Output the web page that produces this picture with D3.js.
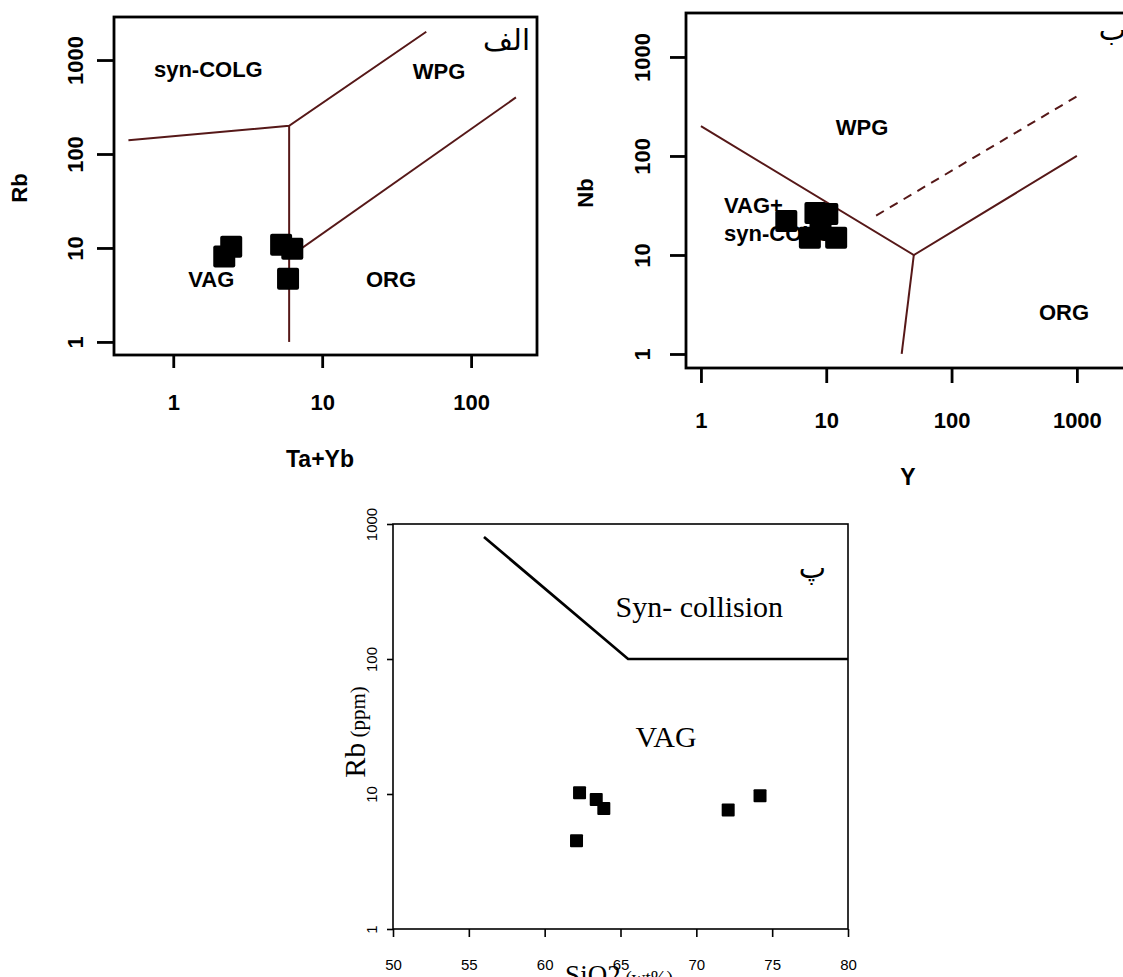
<!DOCTYPE html>
<html>
<head>
<meta charset="utf-8">
<script src="https://cdn.jsdelivr.net/npm/d3@7"></script>
<style>
  body { margin: 0; background: #fff; }
</style>
</head>
<body>
<div id="chart"></div>
<script>
var width = 1123;
var height = 977;

// panel الف : Rb against Ta+Yb
var taYb = [2.2, 2.45, 5.3, 6.3, 5.9];
var rbA = [8.1, 10.3, 10.8, 9.8, 4.7];
var ticksA = [1, 10, 100];
var ticksAy = [1, 10, 100, 1000];

// panel ب : Nb against Y
var yB = [4.8, 8.2, 10.2, 7.4, 12, 9];
var nbB = [22, 26.5, 26, 14.9, 14.9, 18.7];
var ticksB = [1, 10, 100, 1000];
var ticksBy = [1, 10, 100, 1000];

// panel پ : Rb against SiO2
var sio2 = [62.3, 63.4, 63.9, 62.1, 72.1, 74.2];
var rbC = [10.2, 9.1, 7.8, 4.5, 7.6, 9.7];
var ticksC = [50, 55, 60, 65, 70, 75, 80];
var ticksCy = [1, 10, 100, 1000];

// field boundaries (data units)
var boundsA = [
  [[0.5, 140], [6, 200], [50, 2000]],
  [[6, 200], [6, 1]],
  [[6, 8], [200, 400]]
];
var boundsB = [
  [[1, 200], [50, 10], [1000, 100]],
  [[50, 10], [40, 1]]
];
var dashedB = [[25, 25], [1000, 400]];
var boundsC = [[56, 800], [65.5, 100], [80, 100]];

// field names (anchored in data units)
var fieldsA = [
  {t: "syn-COLG", x: 1.72, y: 800},
  {t: "WPG", x: 61, y: 760},
  {t: "VAG", x: 1.8, y: 4.6},
  {t: "ORG", x: 29, y: 4.6}
];
var fieldsB = [
  {t: "WPG", x: 19.3, y: 196},
  {t: "VAG+", x: 1.53, y: 32, a: "start"},
  {t: "syn-COLG", x: 1.53, y: 16.7, a: "start"},
  {t: "ORG", x: 789, y: 2.66}
];
var fieldsC = [
  {t: "Syn- collision", x: 70.2, y: 243},
  {t: "VAG", x: 68, y: 26.5}
];

var svg = d3.select("#chart")
    .append("svg")
    .attr("width", width)
    .attr("height", height);

var lineColor = "#561818";
var sans = "'Liberation Sans', Arial, sans-serif";
var serif = "'Liberation Serif', 'Times New Roman', serif";

var line = d3.line();

function frame(g, f, w) {
  g.append("rect")
      .attr("x", f.x0).attr("y", f.y0)
      .attr("width", f.x1 - f.x0).attr("height", f.y1 - f.y0)
      .attr("fill", "none").attr("stroke", "#000").attr("stroke-width", w);
}

function axes(g, x, y, f, o) {
  var ax = g.append("g")
      .attr("transform", "translate(0," + f.y1 + ")")
      .call(d3.axisBottom(x).tickValues(o.xt).tickFormat(d3.format("d"))
        .tickSize(o.xs).tickSizeOuter(0));
  ax.select(".domain").remove();
  ax.selectAll("line").attr("stroke-width", o.tw);
  ax.selectAll("text")
      .attr("y", o.xl).attr("dy", "0.35em")
      .attr("font-family", o.font).attr("font-size", o.fs)
      .attr("font-weight", o.fw);

  var ay = g.append("g")
      .attr("transform", "translate(" + f.x0 + ",0)")
      .call(d3.axisLeft(y).tickValues(o.yt).tickFormat(d3.format("d"))
        .tickSize(o.ys).tickSizeOuter(0));
  ay.select(".domain").remove();
  ay.selectAll("line").attr("stroke-width", o.tw);
  ay.selectAll("text")
      .attr("transform", "rotate(-90)")
      .attr("x", 0).attr("y", o.yl).attr("dy", 0)
      .attr("text-anchor", "middle")
      .attr("font-family", o.font).attr("font-size", o.fs)
      .attr("font-weight", o.fw);
  g.selectAll(".tick text").attr("fill", "#000");
  g.selectAll(".tick line").attr("stroke", "#000");
}

function squares(g, xs, ys, x, y, s) {
  g.selectAll(null)
    .data(xs.map(function(d, i) { return [d, ys[i]]; }))
    .enter().append("rect")
      .attr("x", function(d) { return x(d[0]) - s / 2; })
      .attr("y", function(d) { return y(d[1]) - s / 2; })
      .attr("width", s).attr("height", s)
      .attr("rx", s > 15 ? 2 : 1)
      .attr("fill", "#000");
}

function fields(g, list, x, y, font, fs, fw) {
  g.selectAll(null)
    .data(list)
    .enter().append("text")
      .attr("x", function(d) { return x(d.x); })
      .attr("y", function(d) { return y(d.y); })
      .attr("dy", "0.35em")
      .attr("text-anchor", function(d) { return d.a || "middle"; })
      .attr("font-family", font).attr("font-size", fs)
      .attr("font-weight", fw)
      .text(function(d) { return d.t; });
}

// ---------- panel الف ----------
var fA = {x0: 114, x1: 537, y0: 17, y1: 355};
var xA = d3.scaleLog().domain([0.40, 277]).range([fA.x0, fA.x1]);
var yA = d3.scaleLog().domain([0.726, 2870]).range([fA.y1, fA.y0]);
var gA = svg.append("g");

gA.selectAll(null).data(boundsA).enter().append("path")
    .attr("d", function(d) { return line(d.map(function(p) { return [xA(p[0]), yA(p[1])]; })); })
    .attr("fill", "none").attr("stroke", lineColor).attr("stroke-width", 2);
fields(gA, fieldsA, xA, yA, sans, 22, "bold");
squares(gA, taYb, rbA, xA, yA, 22);
frame(gA, fA, 2.8);
axes(gA, xA, yA, fA, {xt: ticksA, yt: ticksAy, xs: 13, ys: 17, xl: 47, yl: -31,
  tw: 2.8, font: sans, fs: 22, fw: "bold"});
gA.append("text").attr("x", 320).attr("y", 459).attr("dy", "0.35em")
    .attr("text-anchor", "middle").attr("font-family", sans)
    .attr("font-size", 23).attr("font-weight", "bold").text("Ta+Yb");
gA.append("text").attr("transform", "translate(27,188) rotate(-90)")
    .attr("text-anchor", "middle").attr("font-family", sans)
    .attr("font-size", 22).attr("font-weight", "bold").text("Rb");
gA.append("text").attr("x", 530).attr("y", 50)
    .attr("text-anchor", "end").attr("font-family", "'DejaVu Sans', sans-serif")
    .attr("font-size", 29).text("الف");

// ---------- panel ب ----------
var fB = {x0: 686, x1: 1135, y0: 13, y1: 368};
var xB = d3.scaleLog().domain([0.76, 2910]).range([fB.x0, fB.x1]);
var yB_ = d3.scaleLog().domain([0.722, 2780]).range([fB.y1, fB.y0]);
var gB = svg.append("g");

gB.selectAll(null).data(boundsB).enter().append("path")
    .attr("d", function(d) { return line(d.map(function(p) { return [xB(p[0]), yB_(p[1])]; })); })
    .attr("fill", "none").attr("stroke", lineColor).attr("stroke-width", 2);
gB.append("path")
    .attr("d", line(dashedB.map(function(p) { return [xB(p[0]), yB_(p[1])]; })))
    .attr("fill", "none").attr("stroke", lineColor).attr("stroke-width", 2)
    .attr("stroke-dasharray", "9,7");
fields(gB, fieldsB, xB, yB_, sans, 22, "bold");
squares(gB, yB, nbB, xB, yB_, 22);
frame(gB, fB, 2.8);
axes(gB, xB, yB_, fB, {xt: ticksB, yt: ticksBy, xs: 15, ys: 16, xl: 52, yl: -36,
  tw: 2.8, font: sans, fs: 22, fw: "bold"});
gB.append("text").attr("x", 908).attr("y", 477).attr("dy", "0.35em")
    .attr("text-anchor", "middle").attr("font-family", sans)
    .attr("font-size", 23).attr("font-weight", "bold").text("Y");
gB.append("text").attr("transform", "translate(593,193) rotate(-90)")
    .attr("text-anchor", "middle").attr("font-family", sans)
    .attr("font-size", 22).attr("font-weight", "bold").text("Nb");
gB.append("text").attr("x", 1126).attr("y", 40)
    .attr("text-anchor", "end").attr("font-family", "'DejaVu Sans', sans-serif")
    .attr("font-size", 29).text("ب");

// ---------- panel پ ----------
var fC = {x0: 393, x1: 848, y0: 524, y1: 929};
var xC = d3.scaleLinear().domain([50, 80]).range([fC.x0, fC.x1]);
var yC = d3.scaleLog().domain([1, 1000]).range([fC.y1, fC.y0]);
var gC = svg.append("g");

gC.append("path")
    .attr("d", line(boundsC.map(function(p) { return [xC(p[0]), yC(p[1])]; })))
    .attr("fill", "none").attr("stroke", "#000").attr("stroke-width", 2.7);
fields(gC, fieldsC, xC, yC, serif, 30, "normal");
squares(gC, sio2, rbC, xC, yC, 13);
frame(gC, fC, 1.6);
axes(gC, xC, yC, fC, {xt: ticksC, yt: ticksCy, xs: 8, ys: 6, xl: 36, yl: -16,
  tw: 1.6, font: "'Liberation Sans Narrow', 'Liberation Sans', sans-serif", fs: 15, fw: "normal"});
var tx = gC.append("text").attr("x", 619).attr("y", 984)
    .attr("text-anchor", "middle").attr("font-family", serif);
tx.append("tspan").attr("font-size", 27).text("SiO2");
tx.append("tspan").attr("font-size", 19).text(" (wt%)");
var ty = gC.append("text").attr("transform", "translate(365,732) rotate(-90)")
    .attr("text-anchor", "middle").attr("font-family", serif);
ty.append("tspan").attr("font-size", 30).text("Rb");
ty.append("tspan").attr("font-size", 21).text(" (ppm)");
gC.append("text").attr("x", 826).attr("y", 578)
    .attr("text-anchor", "end").attr("font-family", "'DejaVu Sans', sans-serif")
    .attr("font-size", 29).text("پ");
</script>
</body>
</html>
